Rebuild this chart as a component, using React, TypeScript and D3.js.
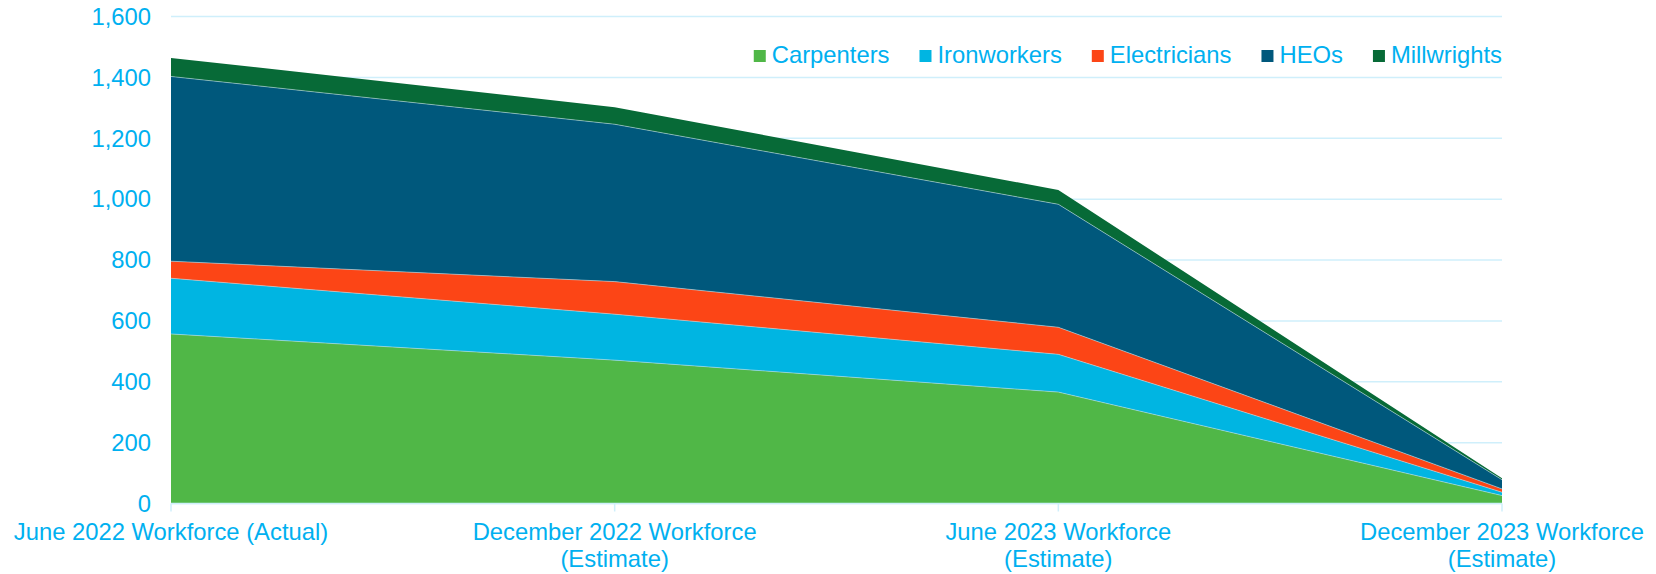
import React, { useEffect, useRef } from 'react';
import * as d3 from 'd3';

const categories = ['Jun22', 'Dec22', 'Jun23', 'Dec23'];
const categoryLabels = [
  ['June 2022 Workforce (Actual)'],
  ['December 2022 Workforce', '(Estimate)'],
  ['June 2023 Workforce', '(Estimate)'],
  ['December 2023 Workforce', '(Estimate)'],
];

const seriesNames = ['Carpenters', 'Ironworkers', 'Electricians', 'HEOs', 'Millwrights'];
const carpenters = [557, 471, 366, 26];
const ironworkers = [183, 151, 124, 11];
const electricians = [56, 107, 89, 11];
const heos = [607, 517, 404, 30];
const millwrights = [61, 56, 47, 5];
const seriesColors = ['#50B747', '#00B5E2', '#FC4516', '#00587C', '#076A37'];

const yTicks = [0, 200, 400, 600, 800, 1000, 1200, 1400, 1600];

const W = 1656;
const H = 574;
const FONT = "'Liberation Sans', Arial, sans-serif";
const FS = '23.8px';
const TEXT = '#00B0F0';
const GRID = '#CFEFFB';

const App = () => {
  const svgRef = useRef<SVGSVGElement>(null);

  useEffect(() => {
    const svg = d3.select(svgRef.current).html('');

    const x = d3.scalePoint().domain(categories).range([171, 1502]);
    const y = d3.scaleLinear().domain([0, 1600]).range([503.5, 16.5]);

    // gridlines
    svg.append('g')
      .selectAll('line')
      .data(yTicks)
      .join('line')
      .attr('x1', 171)
      .attr('x2', 1502)
      .attr('y1', d => y(d))
      .attr('y2', d => y(d))
      .attr('stroke', GRID)
      .attr('stroke-width', 1.5);

    // y labels
    svg.append('g')
      .selectAll('text')
      .data(yTicks)
      .join('text')
      .attr('x', 151)
      .attr('y', d => y(d))
      .attr('dy', '0.35em')
      .attr('text-anchor', 'end')
      .style('font-family', FONT)
      .style('font-size', FS)
      .style('fill', TEXT)
      .text(d => d3.format(',')(d));

    // stacked areas
    const table = categories.map((c, i) => ({
      cat: c,
      Carpenters: carpenters[i],
      Ironworkers: ironworkers[i],
      Electricians: electricians[i],
      HEOs: heos[i],
      Millwrights: millwrights[i],
    }));
    const stacked = d3.stack<any>().keys(seriesNames)(table);

    const area = d3.area<any>()
      .x(d => x(d.data.cat) as number)
      .y0(d => y(d[0]))
      .y1(d => y(d[1]));

    const topLine = d3.line<any>()
      .x(d => x(d.data.cat) as number)
      .y(d => y(d[1]));

    svg.append('g')
      .selectAll('path')
      .data(stacked)
      .join('path')
      .attr('d', area)
      .attr('fill', (_, i) => seriesColors[i]);

    svg.append('g')
      .selectAll('path')
      .data(stacked.slice(0, 4))
      .join('path')
      .attr('d', topLine)
      .attr('fill', 'none')
      .attr('stroke', 'rgba(190,220,230,0.7)')
      .attr('stroke-width', 0.8);

    // x axis line + ticks
    svg.append('line')
      .attr('x1', 171)
      .attr('x2', 1502)
      .attr('y1', y(0))
      .attr('y2', y(0))
      .attr('stroke', GRID)
      .attr('stroke-width', 1.5);

    svg.append('g')
      .selectAll('line')
      .data(categories)
      .join('line')
      .attr('x1', d => x(d) as number)
      .attr('x2', d => x(d) as number)
      .attr('y1', y(0))
      .attr('y2', y(0) + 8)
      .attr('stroke', GRID)
      .attr('stroke-width', 1.5);

    // x labels
    const xl = svg.append('g')
      .selectAll('text')
      .data(categories)
      .join('text')
      .attr('x', d => x(d) as number)
      .attr('y', 532)
      .attr('text-anchor', 'middle')
      .style('font-family', FONT)
      .style('font-size', FS)
      .style('fill', TEXT);
    xl.each(function (_, i) {
      d3.select(this)
        .selectAll('tspan')
        .data(categoryLabels[i])
        .join('tspan')
        .attr('x', x(categories[i]) as number)
        .attr('dy', (_, j) => (j === 0 ? '0.35em' : '27px'))
        .text(t => t);
    });

    // legend, right aligned to the plot edge
    const legend = svg.append('g');
    const items = seriesNames.map((name, i) => {
      const rect = legend.append('rect')
        .attr('y', 50)
        .attr('width', 12)
        .attr('height', 12)
        .attr('fill', seriesColors[i]);
      const t = legend.append('text')
        .attr('y', 55)
        .attr('dy', '0.35em')
        .style('font-family', FONT)
        .style('font-size', FS)
        .style('fill', TEXT)
        .text(name);
      return { rect, t, w: (t.node() as SVGTextElement).getComputedTextLength() };
    });
    const total = d3.sum(items, d => 18 + d.w) + 30 * (items.length - 1);
    let lx = 1502 - total;
    items.forEach(d => {
      d.rect.attr('x', lx);
      d.t.attr('x', lx + 18);
      lx += 18 + d.w + 30;
    });
  }, []);

  return (
    <svg
      ref={svgRef}
      width={W}
      height={H}
      style={{ position: 'absolute', left: 0, top: 0, background: '#fff' }}
    />
  );
};

export default App;
